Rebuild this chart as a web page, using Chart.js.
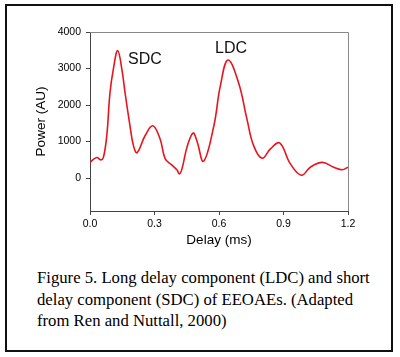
<!DOCTYPE html>
<html>
<head>
<meta charset="utf-8">
<script src="https://cdn.jsdelivr.net/npm/chart.js@4.4.1/dist/chart.umd.min.js"></script>
<style>
  html, body { margin: 0; padding: 0; background: #fff; }
  #wrap { position: relative; width: 400px; height: 357px; overflow: hidden; background: #fff; }
  #frame { position: absolute; left: 5px; top: 4px; width: 384px; height: 344px; border: 2px solid #111; }
  #cv { position: absolute; left: 0; top: 0; }
  .ann { position: absolute; font-family: "Liberation Sans", Arial, sans-serif; font-size: 16px; color: #111; line-height: 16px; transform: translate(-50%, -50%); white-space: nowrap; }
  #caption { position: absolute; left: 37px; top: 267px; font-family: "Liberation Serif", "Times New Roman", serif; font-size: 16.7px; line-height: 21.5px; color: #000; white-space: nowrap; }
</style>
</head>
<body>
<div id="wrap">
  <div id="frame"></div>
  <canvas id="cv" width="400" height="250"></canvas>
  <div class="ann" style="left:145px; top:59px;">SDC</div>
  <div class="ann" style="left:231px; top:48px;">LDC</div>
  <div id="caption">Figure 5. Long delay component (LDC) and short<br>delay component (SDC) of EEOAEs. (Adapted<br>from Ren and Nuttall, 2000)</div>
</div>
<script>
// Data
const delayMs = [0.0, 0.031, 0.05, 0.062, 0.078, 0.093, 0.109, 0.129, 0.149, 0.163, 0.186, 0.202, 0.219, 0.256, 0.292, 0.326, 0.35, 0.38, 0.404, 0.416, 0.428, 0.451, 0.479, 0.497, 0.528, 0.576, 0.606, 0.642, 0.691, 0.73, 0.761, 0.80, 0.839, 0.882, 0.932, 0.983, 1.025, 1.08, 1.134, 1.173, 1.2];
const powerAU = [435, 563, 500, 560, 1160, 2337, 3000, 3489, 2950, 2337, 1432, 889, 698, 1160, 1432, 1070, 527, 363, 230, 115, 260, 842, 1234, 1024, 462, 1432, 2519, 3234, 2609, 1614, 889, 543, 799, 962, 390, 80, 299, 430, 299, 230, 300];
const xTicks = [0.0, 0.3, 0.6, 0.9, 1.2];
const yTicks = [0, 1000, 2000, 3000, 4000];
const xTitle = 'Delay (ms)';
const yTitle = 'Power (AU)';

const points = delayMs.map((d, i) => ({ x: d, y: powerAU[i] }));

const framePlugin = {
  id: 'frameTopRight',
  afterDraw(chart) {
    const a = chart.chartArea, ctx = chart.ctx;
    ctx.save();
    ctx.strokeStyle = '#888';
    ctx.lineWidth = 1;
    ctx.beginPath();
    ctx.moveTo(a.left, a.top + 0.5);
    ctx.lineTo(a.right + 0.5, a.top + 0.5);
    ctx.lineTo(a.right + 0.5, a.bottom);
    ctx.stroke();
    ctx.restore();
  }
};

const tickFont = { family: '"Liberation Sans", Arial, sans-serif', size: 10.5 };
const titleFont = { family: '"Liberation Sans", Arial, sans-serif', size: 13.5 };

new Chart(document.getElementById('cv'), {
  type: 'line',
  data: {
    datasets: [{
      data: points,
      borderColor: '#e8141c',
      borderWidth: 1.6,
      pointRadius: 0,
      fill: false,
      tension: 0.4
    }]
  },
  options: {
    responsive: false,
    animation: false,
    devicePixelRatio: 1,
    layout: { padding: { left: 33, right: 52, top: 32, bottom: 2 } },
    plugins: { legend: { display: false }, tooltip: { enabled: false } },
    scales: {
      x: {
        type: 'linear',
        min: 0, max: 1.2,
        afterBuildTicks: (s) => { s.ticks = xTicks.map(v => ({ value: v })); },
        afterFit: (s) => { s.height = 37; },
        grid: { display: true, drawOnChartArea: false, drawTicks: true, tickLength: 4, color: '#444' },
        border: { display: true, color: '#444', width: 1 },
        ticks: { font: tickFont, color: '#000', padding: 3, maxRotation: 0, callback: (v) => Number(v).toFixed(1) },
        title: { display: true, text: xTitle, font: titleFont, color: '#000', padding: 0 }
      },
      y: {
        type: 'linear',
        min: -900, max: 4000,
        afterBuildTicks: (s) => { s.ticks = yTicks.map(v => ({ value: v })); },
        afterFit: (s) => { s.width = 57; },
        grid: { display: true, drawOnChartArea: false, drawTicks: true, tickLength: 4, color: '#444' },
        border: { display: true, color: '#444', width: 1 },
        ticks: { font: tickFont, color: '#000', padding: 5, callback: (v) => String(v) },
        title: { display: true, text: yTitle, font: titleFont, color: '#000', padding: 0 }
      }
    }
  },
  plugins: [framePlugin]
});
</script>
</body>
</html>
